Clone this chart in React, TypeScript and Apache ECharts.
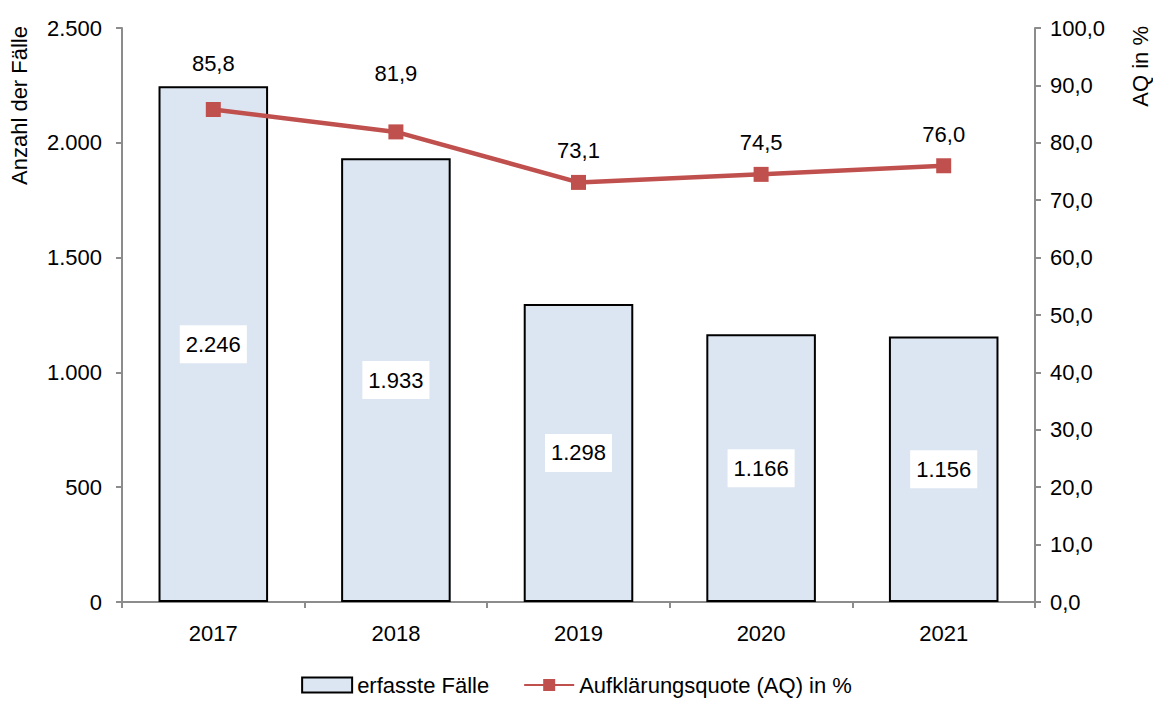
import React, { useEffect, useRef } from "react";
import * as echarts from "echarts";

const categories = ["2017", "2018", "2019", "2020", "2021"];
const faelle = [2246, 1933, 1298, 1166, 1156];
const quote = [85.8, 81.9, 73.1, 74.5, 76.0];
// label distance above each point (styling only)
const quoteLabelDistance = [28, 40, 13, 13, 13];

const FONT = "'Liberation Sans Narrow', 'Arial Narrow', 'Liberation Sans', Arial, sans-serif";
const FS = 22;
const de0 = (v: number) => v.toLocaleString("de-DE", { maximumFractionDigits: 0 });
const de1 = (v: number) => v.toLocaleString("de-DE", { minimumFractionDigits: 1, maximumFractionDigits: 1 });

export default function App() {
  const ref = useRef<HTMLDivElement>(null);
  useEffect(() => {
    if (!ref.current) return;
    const chart = echarts.init(ref.current, undefined, { renderer: "svg" });
    const axisLine = { show: true, lineStyle: { color: "#8c8c8c", width: 2 } };
    const axisTick = { show: true, length: 6, lineStyle: { color: "#8c8c8c", width: 2 } };
    chart.setOption({
      animation: false,
      textStyle: { fontFamily: FONT },
      grid: { left: 122, right: 118, top: 28, bottom: 100 },
      legend: {
        bottom: 1,
        left: "center",
        itemGap: 34,
        itemWidth: 50,
        itemHeight: 15,
        textStyle: { fontFamily: FONT, fontSize: FS, color: "#000" },
        data: [
          { name: "erfasste Fälle", icon: "rect", itemStyle: { color: "#DCE6F2", borderColor: "#000", borderWidth: 2 } },
          { name: "Aufklärungsquote (AQ) in %" },
        ],
      },
      graphic: [
        {
          type: "text",
          x: 8,
          y: 26,
          rotation: Math.PI / 2,
          style: { text: "Anzahl der Fälle", font: `${FS}px ${FONT}`, fill: "#000", align: "right", verticalAlign: "top" },
        },
        {
          type: "text",
          x: 1129,
          y: 26,
          rotation: Math.PI / 2,
          style: { text: "AQ in %", font: `${FS}px ${FONT}`, fill: "#000", align: "right", verticalAlign: "top" },
        },
      ],
      xAxis: {
        type: "category",
        data: categories,
        axisLine,
        axisTick,
        axisLabel: { fontFamily: FONT, fontSize: FS, color: "#000", margin: 20 },
      },
      yAxis: [
        {
          type: "value",
          min: 0,
          max: 2500,
          interval: 500,
          axisLine,
          axisTick,
          splitLine: { show: false },
          axisLabel: { fontFamily: FONT, fontSize: FS, color: "#000", margin: 20, formatter: (v: number) => de0(v) },
        },
        {
          type: "value",
          min: 0,
          max: 100,
          interval: 10,
          position: "right",
          axisLine,
          axisTick,
          splitLine: { show: false },
          axisLabel: { fontFamily: FONT, fontSize: FS, color: "#000", margin: 15, formatter: (v: number) => de1(v) },
        },
      ],
      series: [
        {
          name: "erfasste Fälle",
          type: "bar",
          data: faelle,
          barWidth: "60%",
          itemStyle: { color: "#DCE6F2", borderColor: "#000", borderWidth: 2 },
          label: {
            show: true,
            position: "inside",
            fontFamily: FONT,
            fontSize: FS,
            color: "#000",
            backgroundColor: "#fff",
            padding: [9, 6, 7, 6],
            formatter: (p: any) => de0(p.value),
          },
          z: 1,
        },
        {
          name: "Aufklärungsquote (AQ) in %",
          type: "line",
          yAxisIndex: 1,
          data: quote.map((v, i) => ({ value: v, label: { distance: quoteLabelDistance[i] } })),
          symbol: "rect",
          symbolSize: 15,
          lineStyle: { color: "#C0504D", width: 4.5 },
          itemStyle: { color: "#C0504D" },
          label: {
            show: true,
            position: "top",
            fontFamily: FONT,
            fontSize: FS,
            color: "#000",
            formatter: (p: any) => de1(p.value),
          },
          z: 3,
        },
      ],
    });
    return () => chart.dispose();
  }, []);
  return <div ref={ref} style={{ width: 1153, height: 702, position: "absolute", left: 0, top: 0 }} />;
}
